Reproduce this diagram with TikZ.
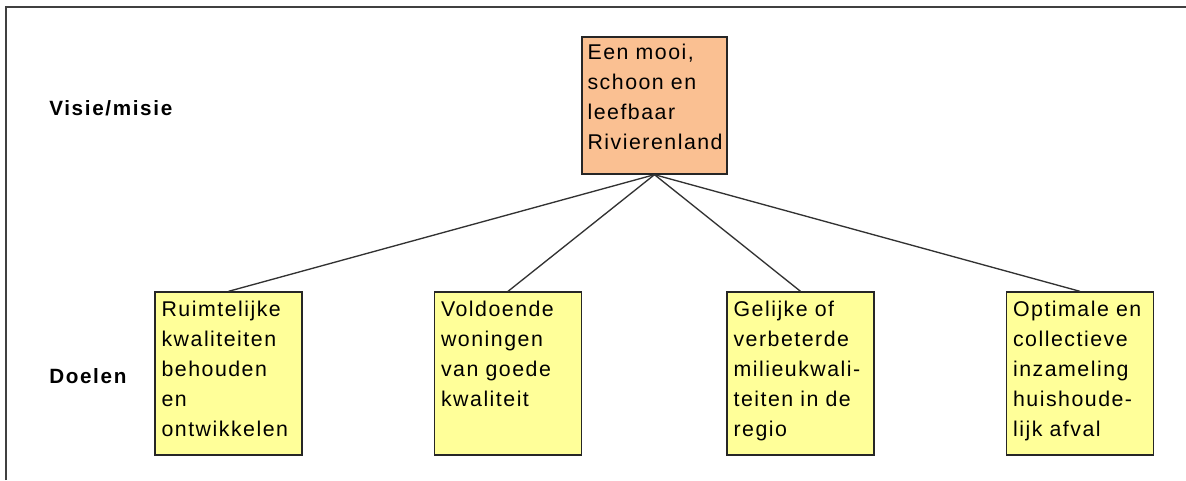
\documentclass[tikz,border=0pt]{standalone}
\usepackage{fontspec}
\setmainfont{Liberation Sans}[LetterSpace=7]
\definecolor{peach}{RGB}{250,192,146}
\definecolor{lightyellow}{RGB}{255,255,153}
\definecolor{linegray}{RGB}{50,50,50}
\begin{document}
\begin{tikzpicture}[x=0.75pt,y=-0.75pt,
  boxframe/.style={draw=black!85, line width=1pt, rectangle, inner sep=0pt},
  goalbox/.style={boxframe, fill=lightyellow, minimum width=147*0.75pt, minimum height=163*0.75pt},
  topbox/.style={boxframe, fill=peach, minimum width=145*0.75pt, minimum height=137*0.75pt},
  boxtext/.style={inner sep=0pt, anchor=north west, align=left, text width=142*0.75pt,
    font=\fontsize{16pt}{22.5pt}\selectfont},
  rowlabel/.style={inner sep=0pt, anchor=base west,
    font=\fontsize{15.5pt}{22.5pt}\selectfont\bfseries\addfontfeature{LetterSpace=8}},
  link/.style={draw=linegray, line width=1pt}]
\useasboundingbox (0,0) rectangle (1186,480);
\fill[white] (0,0) rectangle (1186,480);
% frame
\coordinate (fa) at (6,480);
\coordinate (fb) at (6,7);
\coordinate (fc) at (1186,7);
\draw[black!75, line width=1.3pt] (fa) -- (fb) -- (fc);
% labels
\node[rowlabel] (lvis) at (49,115) {Visie/misie};
\node[rowlabel] (ldoel) at (49,383) {Doelen};
% top box
\node[topbox] (top) at (654.5,105.5) {};
\node[boxtext] (ttop) at ([xshift=6*0.75pt]top.north west)
  {\rule{0pt}{17.25pt}Een mooi,\\schoon en\\leefbaar\\Rivierenland};
% goal boxes
\node[goalbox] (g1) at (228.5,373.5) {};
\node[goalbox] (g2) at (508,373.5) {};
\node[goalbox] (g3) at (800.5,373.5) {};
\node[goalbox] (g4) at (1080,373.5) {};
\node[boxtext] (t1) at ([xshift=7*0.75pt]g1.north west)
  {\rule{0pt}{18.75pt}Ruimtelijke\\kwaliteiten\\behouden\\en\\ontwikkelen};
\node[boxtext] (t2) at ([xshift=7*0.75pt]g2.north west)
  {\rule{0pt}{18.75pt}Voldoende\\woningen\\van goede\\kwaliteit};
\node[boxtext] (t3) at ([xshift=7*0.75pt]g3.north west)
  {\rule{0pt}{18.75pt}Gelijke of\\verbeterde\\milieukwali-\\teiten in de\\regio};
\node[boxtext] (t4) at ([xshift=7*0.75pt]g4.north west)
  {\rule{0pt}{18.75pt}Optimale en\\collectieve\\inzameling\\huishoude-\\lijk afval};
% connectors
\foreach \g in {g1,g2,g3,g4}
  \draw[link] (top.south) -- (\g.north);
\end{tikzpicture}
\end{document}
